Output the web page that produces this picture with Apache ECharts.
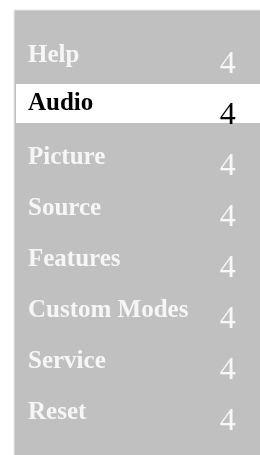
<!DOCTYPE html>
<html>
<head>
<meta charset="utf-8">
<script src="https://cdn.jsdelivr.net/npm/echarts@6/dist/echarts.min.js"></script>
<style>
html, body {margin: 0; padding: 0; background: #fff;}
#main {width: 260px; height: 455px;}
</style>
</head>
<body>
<div id="main"></div>
<script>
//  菜单项
const menuItems = ['Help', 'Audio', 'Picture', 'Source', 'Features', 'Custom Modes', 'Service', 'Reset'];
//  每项右侧的数字
const itemValues = [4, 4, 4, 4, 4, 4, 4, 4];
//  当前选中项
const selectedItem = 'Audio';
//  横轴最大值（高亮条铺满）
const axisMax = 4.4;

const serifFont = '"Liberation Serif", "DejaVu Serif", serif';

const menuOption = function () {
    const selIndex = menuItems.indexOf(selectedItem);
    return {
        animation: false,
        backgroundColor: '#ffffff',
        //  灰色面板
        graphic: [
            {
                type: 'rect',
                z: -10,
                shape: {x: 14, y: 10, width: 247, height: 446},
                style: {fill: '#c0c0c0', stroke: '#e8e8e8', lineWidth: 1},
            }
        ],
        grid: {
            left: 16,
            right: 0,
            top: 27,
            bottom: 20,
        },
        xAxis: {
            type: 'value',
            min: 0,
            max: axisMax,
            show: false,
        },
        yAxis: {
            type: 'category',
            inverse: true,
            //  文字要盖在白底上面
            z: 5,
            data: menuItems.map(function (name) {
                return name === selectedItem
                    ? {value: name, textStyle: {color: '#000000'}}
                    : name;
            }),
            axisLine: {show: false},
            axisTick: {show: false},
            splitLine: {show: false},
            axisLabel: {
                inside: true,
                margin: 12,
                //  文字略往下移
                verticalAlign: 'top',
                lineHeight: 6,
                color: '#f6f6f6',
                fontFamily: serifFont,
                fontWeight: 'bold',
                fontSize: 25,
            },
        },
        series: [
            //  选中项白色底
            {
                type: 'bar',
                barWidth: 39,
                silent: true,
                itemStyle: {color: '#ffffff'},
                data: menuItems.map(function (name) {
                    return name === selectedItem ? axisMax : null;
                }),
            },
            //  右侧数字
            {
                type: 'bar',
                barWidth: 39,
                barGap: '-100%',
                silent: true,
                itemStyle: {color: 'rgba(0,0,0,0)'},
                label: {
                    show: true,
                    position: 'insideRight',
                    distance: 2,
                    offset: [0, 12],
                    formatter: '{c}',
                    color: '#f8f8f8',
                    fontFamily: serifFont,
                    fontSize: 32,
                },
                data: itemValues.map(function (v, i) {
                    return i === selIndex ? {value: v, label: {color: '#000000'}} : v;
                }),
            }
        ],
    };
};

const myChart = echarts.init(document.getElementById('main'));
myChart.setOption(menuOption());
</script>
</body>
</html>
